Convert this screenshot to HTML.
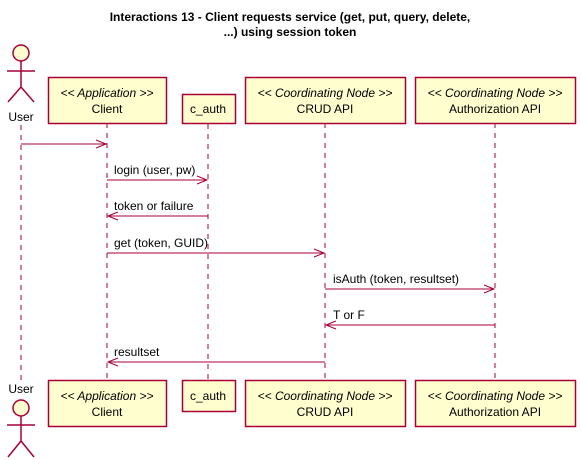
<!DOCTYPE html>
<html><head><style>body{margin:0;background:#fff}svg{display:block}</style></head>
<body>
<svg width="581" height="460" xmlns="http://www.w3.org/2000/svg" font-family="Liberation Sans, sans-serif">
<text x="290" y="21" font-size="12" font-weight="bold" text-anchor="middle">Interactions 13 - Client requests service (get, put, query, delete,</text>
<text x="290" y="36" font-size="12" font-weight="bold" text-anchor="middle">...) using session token</text>
<g stroke="#A80036" stroke-dasharray="5,5" stroke-width="1">
<line x1="21" y1="125" x2="21" y2="380"/>
<line x1="107" y1="123" x2="107" y2="380"/>
<line x1="208" y1="124" x2="208" y2="380"/>
<line x1="325" y1="123" x2="325" y2="380"/>
<line x1="495" y1="123" x2="495" y2="380"/>
</g>
<g fill="#FEFECE" stroke="#A80036" stroke-width="1.5">
<rect x="48.5" y="77.5" width="118" height="46"/>
<rect x="182.5" y="94.5" width="53" height="29"/>
<rect x="245.5" y="77.5" width="160" height="46"/>
<rect x="415.5" y="77.5" width="160" height="46"/>
<rect x="48.5" y="380.5" width="118" height="46"/>
<rect x="182.5" y="380.5" width="53" height="31"/>
<rect x="245.5" y="380.5" width="160" height="46"/>
<rect x="415.5" y="380.5" width="160" height="46"/>
<circle cx="21" cy="53" r="8"/>
<circle cx="21" cy="408" r="8"/>
</g>
<g stroke="#A80036" stroke-width="1.5" fill="none">
<path d="M21 61V87M7 71H35M8 102L21 87L34 102"/>
<path d="M21 416V441M7 425H35M8 457L21 441L34 457"/>
</g>
<g font-size="12" text-anchor="middle" fill="#000">
<text x="21" y="121">User</text>
<text x="21" y="393">User</text>
<text x="107" y="97" font-style="italic">&lt;&lt; Application &gt;&gt;</text><text x="107" y="113">Client</text>
<text x="208" y="113">c_auth</text>
<text x="325" y="97" font-style="italic">&lt;&lt; Coordinating Node &gt;&gt;</text><text x="325" y="113">CRUD API</text>
<text x="495" y="97" font-style="italic">&lt;&lt; Coordinating Node &gt;&gt;</text><text x="495" y="113">Authorization API</text>
<text x="107" y="400" font-style="italic">&lt;&lt; Application &gt;&gt;</text><text x="107" y="416">Client</text>
<text x="208" y="400">c_auth</text>
<text x="325" y="400" font-style="italic">&lt;&lt; Coordinating Node &gt;&gt;</text><text x="325" y="416">CRUD API</text>
<text x="495" y="400" font-style="italic">&lt;&lt; Coordinating Node &gt;&gt;</text><text x="495" y="416">Authorization API</text>
</g>
<g stroke="#A80036" stroke-width="1" fill="none">
<path d="M21 144H106M96 140L106 144L96 148"/>
<path d="M107 180H207M197 176L207 180L197 184"/>
<path d="M208 216H108M118 212L108 216L118 220"/>
<path d="M107 253H324M314 249L324 253L314 257"/>
<path d="M325 289H494M484 285L494 289L484 293"/>
<path d="M495 325H326M336 321L326 325L336 329"/>
<path d="M325 362H108M118 358L108 362L118 366"/>
</g>
<g font-size="12" fill="#000">
<text x="114" y="174">login (user, pw)</text>
<text x="114" y="210">token or failure</text>
<text x="114" y="247">get (token, GUID)</text>
<text x="333" y="283">isAuth (token, resultset)</text>
<text x="333" y="319">T or F</text>
<text x="114" y="356">resultset</text>
</g>
</svg>
</body></html>
